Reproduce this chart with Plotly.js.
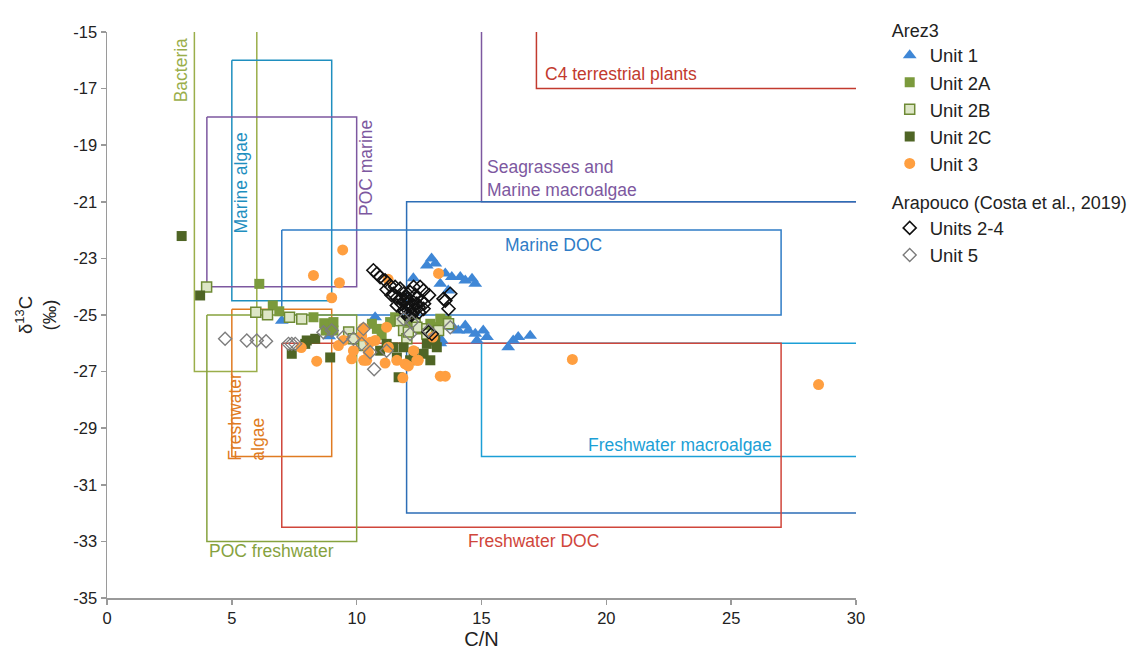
<!DOCTYPE html>
<html>
<head>
<meta charset="utf-8">
<script src="https://cdn.plot.ly/plotly-3.0.1.min.js"></script>
<style>
  html, body { margin: 0; padding: 0; background: #fff; }
  #chart { width: 1143px; height: 650px; }
</style>
</head>
<body>
<div id="chart"></div>
<script>
// C/N ratio vs δ13C of sediment samples, over typical organic-matter source ranges.

// Arez3 – Unit 1
const unit1_cn  = [13.0, 12.81, 13.15, 13.55, 13.81, 14.15, 14.35, 14.62, 14.75, 13.35, 13.67, 12.27,
                   10.74, 13.41, 13.87, 14.07, 14.35, 14.47, 14.75, 14.82, 15.07, 15.22, 16.07, 16.27, 16.47, 16.95,
                   7.0, 8.9, 13.35];
const unit1_d13 = [-23.0, -23.25, -23.18, -23.53, -23.66, -23.66, -23.78, -23.72, -23.9, -23.9, -24.13, -23.7,
                   -25.08, -25.9, -25.43, -25.55, -25.37, -25.55, -25.66, -25.9, -25.55, -25.78, -26.14, -25.9, -25.78, -25.73,
                   -25.2, -25.75, -26.0];

// Arez3 – Unit 2A
const unit2a_cn  = [6.1, 6.64, 6.9, 8.27, 8.7, 8.76, 9.07, 9.07, 11.34, 11.54, 13.35, 13.21, 12.95, 10.61, 10.81, 12.14, 13.6, 11.0];
const unit2a_d13 = [-23.9, -24.66, -24.87, -25.08, -25.29, -25.55, -25.25, -25.55, -25.25, -25.08, -25.13, -25.43, -25.31, -25.31, -25.49, -25.2, -25.2, -25.7];

// Arez3 – Unit 2B
const unit2b_cn  = [3.99, 5.96, 6.43, 7.31, 7.8, 9.68, 9.87, 10.28, 11.74, 11.88, 12.34, 12.61, 12.81, 12.01, 13.28, 13.68, 12.41, 12.07];
const unit2b_d13 = [-24.01, -24.9, -24.99, -25.08, -25.14, -25.6, -25.84, -26.08, -25.2, -25.55, -25.31, -25.49, -25.67, -25.84, -25.55, -25.31, -25.43, -25.6];

// Arez3 – Unit 2C
const unit2c_cn  = [2.99, 3.73, 7.4, 8.0, 8.34, 8.94, 7.94, 11.2, 11.47, 11.88, 12.28, 12.68, 12.95, 12.81, 10.94, 11.68, 11.61, 12.14, 13.21, 13.15];
const unit2c_d13 = [-22.21, -24.31, -26.37, -25.9, -25.84, -26.5, -26.02, -26.02, -26.14, -26.14, -26.32, -26.37, -26.6, -26.02, -26.26, -27.2, -26.5, -26.6, -26.14, -25.9];

// Arez3 – Unit 3
const unit3_cn  = [8.27, 9.44, 9.31, 9.0, 13.28, 18.64, 28.5, 11.26,
                   7.78, 8.4, 9.27, 9.47, 9.8, 9.87, 10.28, 10.2, 10.54, 10.74, 10.47,
                   11.27, 11.14, 11.61, 11.94, 12.41, 11.85, 13.35, 13.55, 10.27, 11.2, 13.05, 12.28, 10.4, 12.07, 12.47];
const unit3_d13 = [-23.6, -22.7, -23.86, -24.39, -23.53, -26.57, -27.46, -23.74,
                   -26.15, -26.63, -26.08, -25.9, -26.55, -26.26, -26.6, -25.73, -25.96, -25.9, -26.32,
                   -26.14, -26.7, -26.6, -26.73, -26.6, -27.22, -27.16, -27.16, -25.46, -25.43, -25.78, -26.26, -26.6, -26.8, -26.6];

// Arapouco (Costa et al., 2019) – Units 2-4
const arap24_cn  = [10.67, 10.81, 10.94, 11.14, 11.34, 11.54, 11.74, 11.88, 12.14, 12.28, 12.54, 12.68, 12.01, 12.28, 11.61,
                    12.48, 12.68, 11.74, 11.47, 12.08, 12.21, 12.41, 11.88, 13.75, 13.55, 13.68, 13.48, 12.88, 12.01, 13.01,
                    11.2, 11.4, 12.0, 12.35, 11.95,
                    11.9, 12.1, 12.3, 12.5, 12.2, 11.8, 12.6, 12.4, 12.0, 11.6, 12.7, 12.9];
const arap24_d13 = [-23.42, -23.54, -23.66, -23.78, -23.96, -24.01, -24.07, -24.25, -24.19, -24.01, -24.01, -24.13, -24.43, -24.55, -24.66,
                    -24.72, -24.78, -24.43, -24.25, -24.84, -24.96, -24.6, -24.84, -24.25, -24.49, -24.78, -24.43, -25.6, -25.02, -25.67,
                    -24.1, -24.3, -24.6, -24.3, -24.9,
                    -24.5, -24.7, -24.8, -24.9, -25.0, -24.6, -24.5, -24.4, -24.35, -24.4, -24.6, -24.3];

// Arapouco (Costa et al., 2019) – Unit 5
const arap5_cn  = [4.73, 5.6, 6.0, 6.37, 7.27, 7.4, 7.54, 8.67, 9.0, 9.47, 9.87, 10.2, 11.2, 10.7, 11.88, 12.21, 12.88, 13.75, 12.14, 10.54, 10.27];
const arap5_d13 = [-25.84, -25.9, -25.9, -25.93, -26.02, -26.02, -26.02, -25.61, -25.55, -25.78, -25.84, -26.02, -26.26, -26.92, -25.14, -25.25, -25.55, -25.43, -25.67, -26.32, -25.49];

// Source end-member ranges, as outlines in (C/N, δ13C)
const sourceRanges = [
  { name: 'Bacteria',              color: '#9aae4a', cn: [3.5, 3.5, 6, 6],               d13: [-15, -27, -27, -15] },
  { name: 'Marine algae',          color: '#1f8fbf', cn: [5, 9, 9, 5, 5],                d13: [-16, -16, -24.5, -24.5, -16] },
  { name: 'POC marine',            color: '#7d58a0', cn: [4, 10, 10, 4, 4],              d13: [-18, -18, -24, -24, -18] },
  { name: 'Seagrasses',            color: '#7d58a0', cn: [15, 15, 30],                   d13: [-15, -21, -21] },
  { name: 'C4 terrestrial plants', color: '#c23a2e', cn: [17.2, 17.2, 30],               d13: [-15, -17, -17] },
  { name: 'C3 terrestrial plants', color: '#2d6eb6', cn: [30, 12, 12, 30],               d13: [-21, -21, -32, -32] },
  { name: 'Marine DOC',            color: '#2f7cc6', cn: [7, 27, 27, 7, 7],              d13: [-22, -22, -25, -25, -22] },
  { name: 'Freshwater macroalgae', color: '#1c9fd6', cn: [30, 15, 15, 30],               d13: [-26, -26, -30, -30] },
  { name: 'Freshwater DOC',        color: '#d0463b', cn: [7, 27, 27, 7, 7],              d13: [-26, -26, -32.5, -32.5, -26] },
  { name: 'Freshwater algae',      color: '#e07b22', cn: [5, 9, 9, 5, 5],                d13: [-24.8, -24.8, -30, -30, -24.8] },
  { name: 'POC freshwater',        color: '#86a23e', cn: [4, 10, 10, 4, 4],              d13: [-25, -25, -33, -33, -25] }
];

const yTicks = [-35, -33, -31, -29, -27, -25, -23, -21, -19, -17, -15];
const xTicks = [0, 5, 10, 15, 20, 25, 30];

const FONT = 'Liberation Sans, Arial, Helvetica, sans-serif';

const outlineShapes = sourceRanges.map(r => ({
  type: 'path',
  xref: 'x', yref: 'y',
  layer: 'below',
  path: r.cn.map((v, i) => (i === 0 ? 'M' : 'L') + v + ',' + r.d13[i]).join(' '),
  line: { color: r.color, width: 1.5 }
}));

function colorOf(name) { return sourceRanges.find(r => r.name === name).color; }

const labelFont = (c) => ({ family: FONT, size: 17.5, color: c });
const rangeLabels = [
  { text: 'Bacteria', x: 2.97, y: -16.35, textangle: -90, font: labelFont(colorOf('Bacteria')) },
  { text: 'Marine algae', x: 5.37, y: -20.35, textangle: -90, font: labelFont(colorOf('Marine algae')) },
  { text: 'POC marine', x: 10.38, y: -19.8, textangle: -90, font: labelFont(colorOf('POC marine')) },
  { text: 'Seagrasses and<br>Marine macroalgae', x: 15.15, y: -20.17, xanchor: 'left', align: 'left', font: labelFont(colorOf('Seagrasses')) },
  { text: 'C4 terrestrial plants', x: 17.45, y: -16.5, xanchor: 'left', font: labelFont(colorOf('C4 terrestrial plants')) },
  { text: 'C3 terrestrial plants', x: 30.05, y: -21.42, xanchor: 'right', font: labelFont(colorOf('C3 terrestrial plants')) },
  { text: 'Marine DOC', x: 17.9, y: -22.52, font: labelFont(colorOf('Marine DOC')) },
  { text: 'Freshwater macroalgae', x: 22.97, y: -29.58, font: labelFont(colorOf('Freshwater macroalgae')) },
  { text: 'Freshwater DOC', x: 17.07, y: -32.98, font: labelFont(colorOf('Freshwater DOC')) },
  { text: 'Freshwater<br>algae', x: 5.6, y: -28.6, textangle: -90, align: 'left', font: labelFont(colorOf('Freshwater algae')) },
  { text: 'POC freshwater', x: 6.6, y: -33.34, font: labelFont(colorOf('POC freshwater')) }
].map(a => Object.assign({ xref: 'x', yref: 'y', showarrow: false }, a));

const traces = [
  { name: 'Unit 1', x: unit1_cn, y: unit1_d13, type: 'scatter', mode: 'markers', legend: 'legend',
    marker: { symbol: 'triangle-up', size: 12, color: '#3f87d6' } },
  { name: 'Unit 2A', x: unit2a_cn, y: unit2a_d13, type: 'scatter', mode: 'markers', legend: 'legend',
    marker: { symbol: 'square', size: 10, color: '#7b9a3c' } },
  { name: 'Unit 2B', x: unit2b_cn, y: unit2b_d13, type: 'scatter', mode: 'markers', legend: 'legend',
    marker: { symbol: 'square', size: 10, color: '#dde6c6', line: { color: '#6e8a35', width: 1.5 } } },
  { name: 'Unit 2C', x: unit2c_cn, y: unit2c_d13, type: 'scatter', mode: 'markers', legend: 'legend',
    marker: { symbol: 'square', size: 10, color: '#4f6525' } },
  { name: 'Unit 3', x: unit3_cn, y: unit3_d13, type: 'scatter', mode: 'markers', legend: 'legend',
    marker: { symbol: 'circle', size: 11, color: '#ff9f40' } },
  { name: 'Units 2-4', x: arap24_cn, y: arap24_d13, type: 'scatter', mode: 'markers', legend: 'legend2',
    marker: { symbol: 'diamond-open', size: 10, color: '#111111', line: { width: 1.6 } } },
  { name: 'Unit 5', x: arap5_cn, y: arap5_d13, type: 'scatter', mode: 'markers', legend: 'legend2',
    marker: { symbol: 'diamond-open', size: 10, color: '#7d7d7d', line: { width: 1.4 } } }
];

const axisCommon = {
  showgrid: false, zeroline: false,
  showline: true, linecolor: '#9a9a9a', linewidth: 1.5,
  ticks: 'outside', ticklen: 5, tickcolor: '#9a9a9a', tickwidth: 1.5,
  tickfont: { family: FONT, size: 16.5, color: '#222' }
};

const legendCommon = {
  xref: 'paper', yref: 'paper', xanchor: 'left', yanchor: 'top',
  font: { family: FONT, size: 18.5, color: '#222' },
  bgcolor: 'rgba(0,0,0,0)', itemclick: false, itemdoubleclick: false
};

const layout = {
  width: 1143, height: 650,
  margin: { l: 107, r: 287, t: 32, b: 52 },
  paper_bgcolor: '#fff', plot_bgcolor: '#fff',
  font: { family: FONT, color: '#222' },
  xaxis: Object.assign({}, axisCommon, {
    range: [0, 30], tickvals: xTicks, ticktext: xTicks.map(String),
    title: { text: 'C/N', font: { family: FONT, size: 20, color: '#222' }, standoff: 8 }
  }),
  yaxis: Object.assign({}, axisCommon, {
    range: [-35, -15], tickvals: yTicks, ticktext: yTicks.map(String),
    title: { text: 'δ<sup>13</sup>C<br>(‰)', font: { family: FONT, size: 18.5, color: '#222' }, standoff: 12 }
  }),
  shapes: outlineShapes,
  annotations: rangeLabels,
  showlegend: true,
  legend: Object.assign({}, legendCommon, {
    x: 1.045, y: 1.033,
    title: { text: 'Arez3', font: { family: FONT, size: 18, color: '#222' } }
  }),
  legend2: Object.assign({}, legendCommon, {
    x: 1.045, y: 0.728,
    title: { text: 'Arapouco (Costa et al., 2019)', font: { family: FONT, size: 18, color: '#222' } }
  })
};

Plotly.newPlot('chart', traces, layout, { displayModeBar: false, staticPlot: true });
</script>
</body>
</html>
